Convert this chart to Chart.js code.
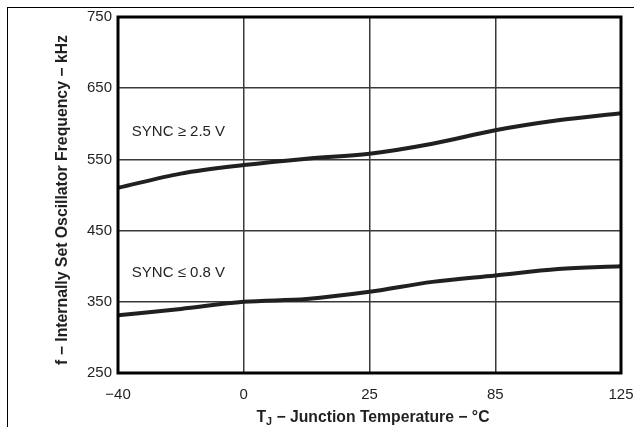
<!DOCTYPE html>
<html>
<head>
<meta charset="utf-8">
<script src="https://cdn.jsdelivr.net/npm/chart.js@4.4.1/dist/chart.umd.min.js"></script>
<style>
  body { margin: 0; background: #fff; }
  #wrap { position: relative; width: 634px; height: 427px; }
  #frame { position: absolute; left: 7px; top: 7px; right: 0; bottom: 0;
           border-top: 1.5px solid #000; border-left: 1.5px solid #000; }
  #chart { position: absolute; left: 0; top: 0; }
</style>
</head>
<body>
<div id="wrap">
  <div id="frame"></div>
  <canvas id="chart" width="634" height="427"></canvas>
</div>
<script>
// x positions are category slots: 0 = -40, 1 = 0, 2 = 25, 3 = 85, 4 = 125 (evenly spaced on the plot)
const xTickLabels = ['\u221240', '0', '25', '85', '125'];
const xSlots = [0, 0.5, 1, 1.5, 2, 2.5, 3, 3.5, 4];

// kHz
const syncHigh = [510, 530, 542, 551, 558, 572, 591, 605, 615];
const syncLow  = [331, 340, 350, 354, 364, 378, 387, 396, 400];

const yTicks = [250, 350, 450, 550, 650, 750];

// curve labels: [text, x slot, y value]
const curveLabels = [
    ['SYNC \u2265 2.5 V', 0.11, 589],
    ['SYNC \u2264 0.8 V', 0.11, 390]
];

const ink = '#231f20';

function toPoints(values) {
    return xSlots.map((x, i) => ({ x: x, y: values[i] }));
}

// draws the plot frame, curve labels and axis titles
const decorations = {
    id: 'decorations',
    afterDraw(chart) {
        const ctx = chart.ctx;
        const area = chart.chartArea;
        const xs = chart.scales.x;
        const ys = chart.scales.y;

        ctx.save();
        ctx.strokeStyle = '#000';
        ctx.lineWidth = 3;
        ctx.strokeRect(area.left, area.top, area.right - area.left, area.bottom - area.top);

        ctx.fillStyle = ink;
        ctx.font = '15px "Liberation Sans", Arial, sans-serif';
        ctx.textBaseline = 'middle';
        ctx.textAlign = 'left';
        curveLabels.forEach(l => {
            ctx.fillText(l[0], xs.getPixelForValue(l[1]), ys.getPixelForValue(l[2]));
        });

        // y title, squeezed a little to look like the condensed face of the original
        ctx.font = 'bold 16px "Liberation Sans", Arial, sans-serif';
        const yTitle = 'f \u2212 Internally Set Oscillator Frequency \u2212 kHz';
        const yw = ctx.measureText(yTitle).width;
        ctx.save();
        ctx.translate(63, 200);
        ctx.rotate(-Math.PI / 2);
        ctx.scale(330 / yw, 1);
        ctx.textAlign = 'center';
        ctx.fillText(yTitle, 0, 0);
        ctx.restore();

        // x title with subscript J
        const parts = [
            ['T', 'bold 16px "Liberation Sans", Arial, sans-serif', 0],
            ['J', 'bold 11px "Liberation Sans", Arial, sans-serif', 4],
            [' \u2212 Junction Temperature \u2212 \u00b0C', 'bold 16px "Liberation Sans", Arial, sans-serif', 0]
        ];
        let total = 0;
        parts.forEach(p => { ctx.font = p[1]; total += ctx.measureText(p[0]).width; });
        const sx = 233 / total;
        ctx.save();
        ctx.translate(373 - 233 / 2, 418);
        ctx.scale(sx, 1);
        ctx.textAlign = 'left';
        let cx = 0;
        parts.forEach(p => {
            ctx.font = p[1];
            ctx.fillText(p[0], cx, p[2]);
            cx += ctx.measureText(p[0]).width;
        });
        ctx.restore();

        ctx.restore();
    }
};

new Chart(document.getElementById('chart'), {
    type: 'line',
    data: {
        datasets: [
            { label: 'SYNC >= 2.5 V', data: toPoints(syncHigh) },
            { label: 'SYNC <= 0.8 V', data: toPoints(syncLow) }
        ]
    },
    options: {
        responsive: false,
        animation: false,
        layout: { padding: { top: 17, right: 13, left: 0, bottom: 0 } },
        elements: {
            line: { borderColor: ink, borderWidth: 4, cubicInterpolationMode: 'monotone', fill: false },
            point: { radius: 0 }
        },
        plugins: {
            legend: { display: false },
            tooltip: { enabled: false }
        },
        scales: {
            x: {
                type: 'linear',
                min: 0,
                max: 4,
                afterFit: s => { s.height = 54; s.paddingLeft = 0; s.paddingRight = 0; },
                afterBuildTicks: s => { s.ticks = xTickLabels.map((t, i) => ({ value: i })); },
                ticks: {
                    callback: v => xTickLabels[v],
                    color: ink,
                    padding: 13,
                    maxRotation: 0,
                    font: { family: '"Liberation Sans", Arial, sans-serif', size: 15 }
                },
                grid: { color: '#3a3a3a', lineWidth: 1.5, drawTicks: false },
                border: { display: false }
            },
            y: {
                min: 250,
                max: 750,
                afterFit: s => { s.width = 118; s.paddingTop = 0; s.paddingBottom = 0; },
                afterBuildTicks: s => { s.ticks = yTicks.map(v => ({ value: v })); },
                ticks: {
                    color: ink,
                    padding: 6,
                    font: { family: '"Liberation Sans", Arial, sans-serif', size: 15 }
                },
                grid: { color: '#3a3a3a', lineWidth: 1.5, drawTicks: false },
                border: { display: false }
            }
        }
    },
    plugins: [decorations]
});
</script>
</body>
</html>
